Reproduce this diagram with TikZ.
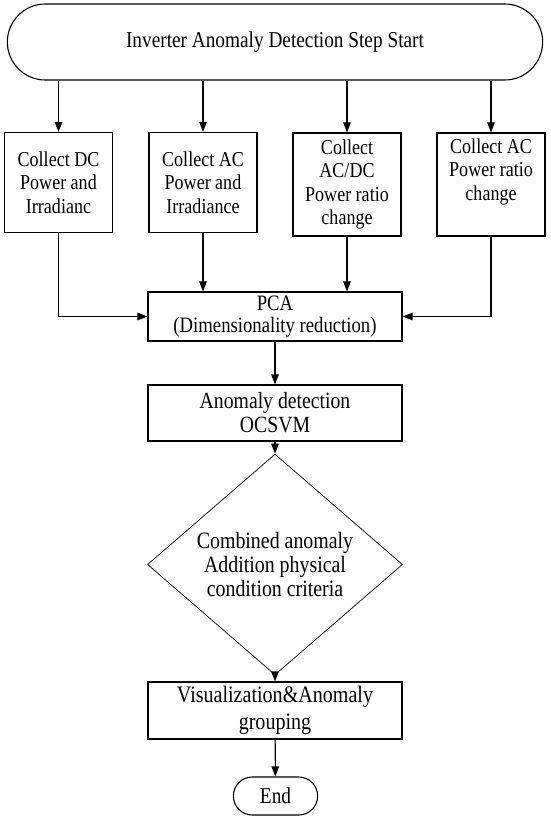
\documentclass[tikz,border=0pt]{standalone}
\usepackage{fontspec}
\setmainfont{Liberation Serif}[FakeStretch=0.85]
\usetikzlibrary{arrows.meta, shapes.geometric, shapes.misc}

\begin{document}
\begin{tikzpicture}[
            x=1pt, y=-1pt,
            % ----- Styles -----
                term/.style={
                    rounded rectangle, draw=black, line width=1.1pt,
                    text centered, font=\fontsize{22.7}{26}\selectfont
                },
                box/.style={
                    rectangle, draw=black, line width=1.1pt, inner sep=2pt,
                    text centered, align=center, font=\fontsize{21.2}{23.5}\selectfont
                },
                wide/.style={box, minimum width=254pt},
                cond/.style={
                    diamond, draw=black, line width=0.7pt, inner sep=0pt,
                    minimum width=255pt, minimum height=161pt,
                    align=center, font=\fontsize{23.4}{24}\selectfont
                },
                arr/.style={-{Triangle[length=10pt, width=7.5pt]}, line width=1.1pt}
            ]

                \useasboundingbox (0,0) rectangle (550,818);

% ===================== Start ===================================
                \node[term, minimum width=542pt, minimum height=76pt]
                    (start) at (275,42) {Inverter Anomaly Detection Step Start};

% ===================== Collect boxes ===========================
                \node[box, minimum width=108pt, minimum height=100pt]
                    (c1) at (58.5,182.5) {Collect DC\\Power and\\Irradianc};
                \node[box, minimum width=108pt, minimum height=100pt]
                    (c2) at (203,182.5)  {Collect AC\\Power and\\Irradiance};
                \node[box, minimum width=108pt, minimum height=103pt]
                    (c3) at (347,184.5)  {Collect\\AC/DC\\Power ratio\\change};
                \node[box, minimum width=108pt, minimum height=103pt, text depth=30pt]
                    (c4) at (491,184.5)  {Collect AC\\Power ratio\\change};

% ===================== Main column =============================
                \node[wide, minimum height=49pt, font=\fontsize{22}{22}\selectfont]
                    (pca) at (275,316.5) {PCA\\(Dimensionality reduction)};
                \node[wide, minimum height=56pt, font=\fontsize{23.2}{24}\selectfont]
                    (ocsvm) at (275,413) {Anomaly detection\\OCSVM};
                \node[cond] (crit) at (275,564.5)
                    {Combined anomaly\\Addition physical\\condition criteria};
                \node[wide, minimum height=57pt, font=\fontsize{23.6}{27}\selectfont]
                    (vis) at (275,710.5) {Visualization\&Anomaly\\grouping};
                \node[term, minimum width=91pt, minimum height=38pt]
                    (end) at (275.5,796) {End};

% ===================== Arrows ==================================
                \foreach \c in {c1, c2, c3, c4}
                    \draw[arr] (\c |- start.south) -- (\c.north);

                \draw[arr] (c1.south) |- (pca.west);
                \draw[arr] (c2.south) -- (c2.south |- pca.north);
                \draw[arr] (c3.south) -- (c3.south |- pca.north);
                \draw[arr] (c4.south) |- (pca.east);

                \draw[arr] (pca) -- (ocsvm);
                \draw[arr] (ocsvm) -- (crit);
                \draw[arr] (crit) -- (vis);
                \draw[arr] (vis) -- (end);

            \end{tikzpicture}
\end{document}
